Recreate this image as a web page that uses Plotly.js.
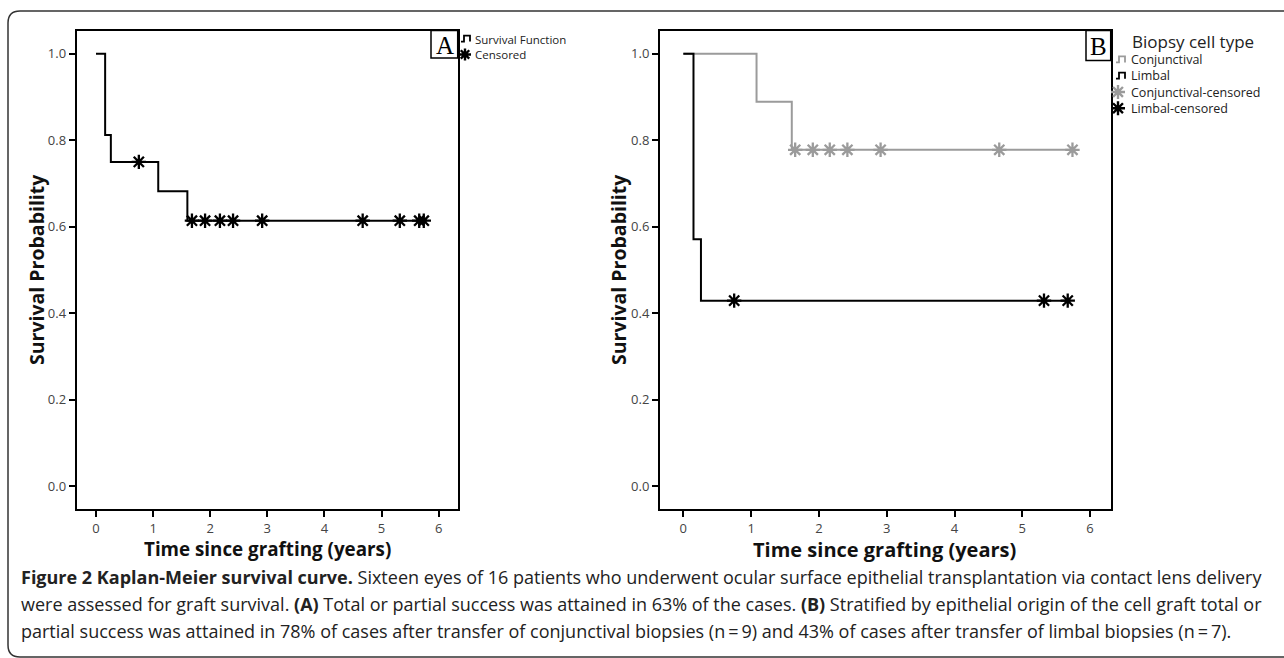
<!DOCTYPE html>
<html>
<head>
<meta charset="utf-8">
<script src="https://cdn.plot.ly/plotly-3.0.1.min.js"></script>
<style>html,body{margin:0;padding:0;background:#fff;}#chart{width:1284px;height:658px;}</style>
</head>
<body>
<div id="chart"></div>
<script>
// ---- Data ----
// Panel A: all eyes
var stepTimeA = [0, 0.16, 0.26, 1.09, 1.60, 5.74];
var stepSurvA = [1.0, 0.8125, 0.75, 0.682, 0.614, 0.614];
var censTimeA = [0.75, 1.68, 1.91, 2.17, 2.40, 2.91, 4.67, 5.32, 5.66, 5.74];
var censSurvA = [0.75, 0.614, 0.614, 0.614, 0.614, 0.614, 0.614, 0.614, 0.614, 0.614];
// Panel B: conjunctival biopsies
var stepTimeConj = [0, 1.08, 1.60, 5.74];
var stepSurvConj = [1.0, 0.889, 0.778, 0.778];
var censTimeConj = [1.65, 1.91, 2.16, 2.42, 2.91, 4.66, 5.74];
var censSurvConj = [0.778, 0.778, 0.778, 0.778, 0.778, 0.778, 0.778];
// Panel B: limbal biopsies
var stepTimeLimb = [0, 0.15, 0.26, 5.67];
var stepSurvLimb = [1.0, 0.571, 0.429, 0.429];
var censTimeLimb = [0.75, 5.32, 5.67];
var censSurvLimb = [0.429, 0.429, 0.429];
// Tick labels and texts
var xTicks = [0, 1, 2, 3, 4, 5, 6];
var yTicks = [0, 0.2, 0.4, 0.6, 0.8, 1.0];
var legendA = ["Survival Function", "Censored"];
var legendBTitle = "Biopsy cell type";
var legendB = ["Conjunctival", "Limbal", "Conjunctival-censored", "Limbal-censored"];
var xTitle = "Time since grafting (years)";
var yTitle = "Survival Probability";
var captionLines = [
  "<b>Figure 2 Kaplan-Meier survival curve.</b> Sixteen eyes of 16 patients who underwent ocular surface epithelial transplantation via contact lens delivery",
  "were assessed for graft survival. <b>(A)</b> Total or partial success was attained in 63% of the cases. <b>(B)</b> Stratified by epithelial origin of the cell graft total or",
  "partial success was attained in 78% of cases after transfer of conjunctival biopsies (n\u2009=\u20099) and 43% of cases after transfer of limbal biopsies (n\u2009=\u20097)."
];

// ---- Layout helpers (pixel -> paper) ----
var W = 1284, H = 658;
function px(x){ return x / W; }
function py(y){ return 1 - y / H; }

var GRAY = '#9b9b9b';
var FONT = 'Open Sans, Noto Sans, sans-serif';

function stepTrace(x, y, color, xa, ya){
  return {x: x, y: y, type: 'scatter', mode: 'lines', xaxis: xa, yaxis: ya,
    line: {shape: 'hv', color: color, width: 2}, hoverinfo: 'skip', showlegend: false};
}
function censTrace(x, y, color, xa, ya){
  return {x: x, y: y, type: 'scatter', mode: 'markers', xaxis: xa, yaxis: ya,
    marker: {symbol: 'asterisk-open', size: 12, color: color, line: {color: color, width: 2.3}},
    hoverinfo: 'skip', showlegend: false};
}

var data = [
  stepTrace(stepTimeA, stepSurvA, '#000', 'x', 'y'),
  censTrace(censTimeA, censSurvA, '#000', 'x', 'y'),
  stepTrace(stepTimeConj, stepSurvConj, GRAY, 'x2', 'y2'),
  stepTrace(stepTimeLimb, stepSurvLimb, '#000', 'x2', 'y2'),
  censTrace(censTimeConj, censSurvConj, GRAY, 'x2', 'y2'),
  censTrace(censTimeLimb, censSurvLimb, '#000', 'x2', 'y2')
];

function xAxis(domain, range){
  return {domain: domain, range: range, tickvals: xTicks, ticks: 'outside', ticklen: 6, tickwidth: 2,
    tickcolor: '#000', showline: true, mirror: true, linewidth: 2, linecolor: '#000',
    showgrid: false, zeroline: false, tickfont: {family: FONT, size: 13, color: '#444'}, fixedrange: true};
}
function yAxis(domain, range, anchor){
  return {domain: domain, range: range, anchor: anchor, tickvals: yTicks, tickformat: '.1f', ticks: 'outside',
    ticklen: 6, tickwidth: 2, tickcolor: '#000', showline: true, mirror: true, linewidth: 2, linecolor: '#000',
    showgrid: false, zeroline: false, tickfont: {family: FONT, size: 13, color: '#444'}, fixedrange: true};
}

var yDom = [py(509), py(30.5)];
var layout = {
  width: W, height: H,
  margin: {l: 0, r: 0, t: 0, b: 0},
  paper_bgcolor: '#fff', plot_bgcolor: '#fff',
  showlegend: false,
  xaxis: xAxis([px(76.7), px(457.7)], [-0.338, 6.334]),
  yaxis: yAxis(yDom, [-0.053, 1.054], 'x'),
  xaxis2: Object.assign(xAxis([px(660), px(1110.7)], [-0.344, 6.304]), {anchor: 'y2'}),
  yaxis2: yAxis(yDom, [-0.053, 1.054], 'x2'),
  shapes: [],
  annotations: []
};

function ann(x, y, text, size, opts){
  var a = {xref: 'paper', yref: 'paper', x: px(x), y: py(y), text: text, showarrow: false,
    xanchor: 'center', yanchor: 'middle', font: {family: FONT, size: size, color: '#222'}};
  return Object.assign(a, opts || {});
}

// outer rounded frame
layout.shapes.push({type: 'path', xref: 'paper', yref: 'paper',
  path: 'M' + px(1300) + ',' + py(11) + ' L' + px(20) + ',' + py(11) +
        ' Q' + px(8) + ',' + py(11) + ' ' + px(8) + ',' + py(23) +
        ' L' + px(8) + ',' + py(645) + ' Q' + px(8) + ',' + py(657) + ' ' + px(20) + ',' + py(657) +
        ' L' + px(1300) + ',' + py(657),
  line: {color: '#333', width: 1.5}});

// panel label boxes
layout.shapes.push({type: 'rect', xref: 'paper', yref: 'paper', x0: px(431), x1: px(457.7), y0: py(58), y1: py(30.5), line: {color: '#000', width: 1.5}});
layout.shapes.push({type: 'rect', xref: 'paper', yref: 'paper', x0: px(1086), x1: px(1110.7), y0: py(60.5), y1: py(30.5), line: {color: '#000', width: 1.5}});
var serif = 'Liberation Serif, Times New Roman, serif';
layout.annotations.push(ann(444.5, 45, 'A', 25, {font: {family: serif, size: 25, color: '#000'}}));
layout.annotations.push(ann(1098.5, 46, 'B', 25, {font: {family: serif, size: 25, color: '#000'}}));

// axis titles
layout.annotations.push(ann(267, 549, '<b>' + xTitle + '</b>', 18.8, {font: {family: FONT, size: 18.8, color: '#111'}}));
layout.annotations.push(ann(884, 549, '<b>' + xTitle + '</b>', 20, {font: {family: FONT, size: 20, color: '#111'}}));
layout.annotations.push(ann(36, 270, '<b>' + yTitle + '</b>', 19.5, {textangle: -90, font: {family: FONT, size: 19.5, color: '#111'}}));
layout.annotations.push(ann(618, 270, '<b>' + yTitle + '</b>', 19.5, {textangle: -90, font: {family: FONT, size: 19.5, color: '#111'}}));

// legend icons (decoration)
function stepIcon(x, y, color){
  return {type: 'path', xref: 'paper', yref: 'paper',
    path: 'M' + px(x) + ',' + py(y + 6) + ' L' + px(x + 3) + ',' + py(y + 6) + ' L' + px(x + 3) + ',' + py(y) +
          ' L' + px(x + 9) + ',' + py(y) + ' L' + px(x + 9) + ',' + py(y + 6),
    line: {color: color, width: 1.8}};
}
function starIcon(cx, cy, r, color){
  var d = r * 0.7071, p = '';
  p += 'M' + px(cx - r) + ',' + py(cy) + ' L' + px(cx + r) + ',' + py(cy);
  p += ' M' + px(cx) + ',' + py(cy - r) + ' L' + px(cx) + ',' + py(cy + r);
  p += ' M' + px(cx - d) + ',' + py(cy - d) + ' L' + px(cx + d) + ',' + py(cy + d);
  p += ' M' + px(cx - d) + ',' + py(cy + d) + ' L' + px(cx + d) + ',' + py(cy - d);
  return {type: 'path', xref: 'paper', yref: 'paper', path: p, line: {color: color, width: 2.4}};
}

// Legend A: one multi-line text block
var fsA = 11.5, lhA = fsA * 1.3, cA = 47;
layout.annotations.push(ann(473, cA, legendA.join('<br>'), fsA, {xanchor: 'left', align: 'left'}));
layout.shapes.push(stepIcon(461, cA - lhA / 2 - 4, '#000'));
layout.shapes.push(starIcon(465, cA + lhA / 2, 6, '#000'));

// Legend B
layout.annotations.push(ann(1130, 41.5, legendBTitle, 17, {xanchor: 'left'}));
var fsB = 12.5, lhB = fsB * 1.3, cB = 83.8;
layout.annotations.push(ann(1129, cB, legendB.join('<br>'), fsB, {xanchor: 'left', align: 'left'}));
var yB = [cB - 1.5 * lhB, cB - 0.5 * lhB, cB + 0.5 * lhB, cB + 1.5 * lhB];
layout.shapes.push(stepIcon(1116, yB[0] - 3, GRAY));
layout.shapes.push(stepIcon(1116, yB[1] - 3, '#000'));
layout.shapes.push(starIcon(1118, yB[2], 7, GRAY));
layout.shapes.push(starIcon(1118, yB[3], 7, '#000'));

// caption
captionLines.forEach(function(t, i){
  layout.annotations.push(ann(19, 577 + i * 27, t, 18, {xanchor: 'left'}));
});

Plotly.newPlot('chart', data, layout, {displayModeBar: false, staticPlot: true});
</script>
</body>
</html>
